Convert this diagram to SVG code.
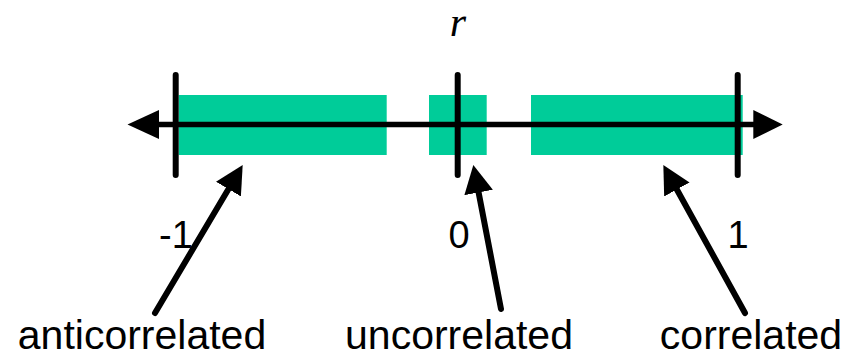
<svg xmlns="http://www.w3.org/2000/svg" width="851" height="357" viewBox="0 0 851 357">
<style>
.band{fill:#00CC99}
.axis{stroke:#000;stroke-width:5.5;fill:none}
.tick{stroke:#000;stroke-width:6;stroke-linecap:round;fill:none}
.ptr{stroke:#000;stroke-width:6;stroke-linecap:round;fill:none;marker-end:url(#head)}
.lbl{font-family:"Liberation Sans",Arial,sans-serif;fill:#000;text-anchor:middle}
.num{font-size:38px}
.word{font-size:41px}
.var{font-family:"Liberation Serif","Times New Roman",serif;font-style:italic;font-size:42px;text-anchor:middle}
</style>
<defs>
<marker id="head" markerUnits="userSpaceOnUse" viewBox="0 -15 30 30" refX="8" refY="0" markerWidth="30" markerHeight="30" orient="auto">
<path d="M0,-14.5 L28,0 L0,14.5 z" fill="#000"/>
</marker>
</defs>
<g id="bands">
<rect class="band" x="178.7" y="95" width="208" height="60"/>
<rect class="band" x="429" y="95" width="57.7" height="60"/>
<rect class="band" x="531" y="95" width="211.7" height="60"/>
</g>
<g id="axis">
<line class="axis" x1="155" y1="124.5" x2="756" y2="124.5"/>
<polygon points="127.5,124.5 159,110 159,139" fill="#000"/>
<polygon points="782.7,124.5 753.3,110 753.3,139" fill="#000"/>
</g>
<g id="ticks">
<line class="tick" x1="175.7" y1="75" x2="175.7" y2="175"/>
<line class="tick" x1="457.7" y1="75" x2="457.7" y2="175"/>
<line class="tick" x1="737.7" y1="75" x2="737.7" y2="175"/>
</g>
<g id="title"><text class="var" x="458" y="36">r</text></g>
<g id="tick-labels">
<text class="lbl num" x="176" y="248">-1</text>
<text class="lbl num" x="459" y="248">0</text>
<text class="lbl num" x="738" y="248">1</text>
</g>
<g id="connectors">
<line class="ptr" x1="155" y1="313" x2="232.5" y2="182.2"/>
<line class="ptr" x1="501" y1="309" x2="477.1" y2="184.6"/>
<line class="ptr" x1="745" y1="313" x2="673" y2="182.5"/>
</g>
<g id="anticorrelated"><text class="lbl word" x="142" y="349">anticorrelated</text></g>
<g id="uncorrelated"><text class="lbl word" x="459" y="349">uncorrelated</text></g>
<g id="correlated"><text class="lbl word" x="751" y="349">correlated</text></g>
</svg>
